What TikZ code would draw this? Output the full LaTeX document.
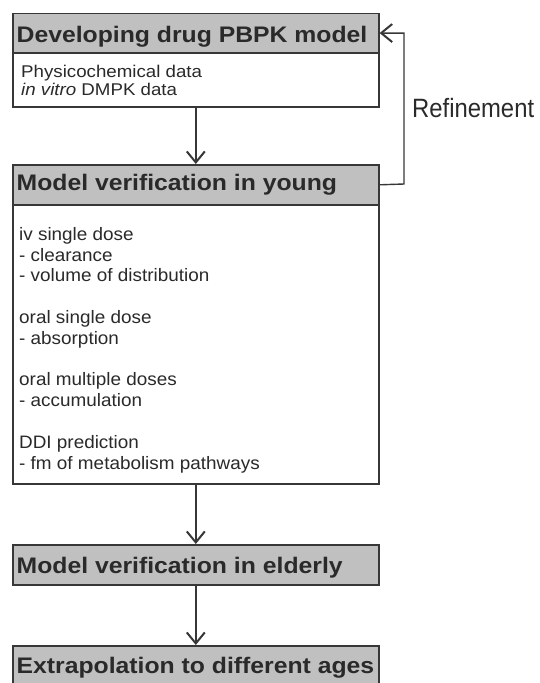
\documentclass[tikz,border=0pt]{standalone}
\usepackage{fontspec}
\setmainfont{Liberation Sans}
\newfontfamily\hdfont[FakeStretch=1.1]{Liberation Sans}
\newfontfamily\bdfont[FakeStretch=1.05]{Liberation Sans}
\newfontfamily\rffont[FakeStretch=0.9]{Liberation Sans}
\usetikzlibrary{arrows.meta,calc}
\definecolor{hdgray}{RGB}{192,192,192}
\definecolor{ink}{RGB}{42,42,42}
\definecolor{edge}{RGB}{55,55,55}
\tikzset{
  boxbase/.style={draw=edge, line width=1.6pt, inner sep=0pt, anchor=north west, minimum width=366pt},
  hdbox/.style={boxbase, fill=hdgray, minimum height=40pt},
  bodybox/.style={boxbase, fill=white},
  hdtext/.style={anchor=base west, inner sep=0pt, text=ink, font=\hdfont\bfseries\fontsize{22.5}{26}\selectfont},
  bodytext/.style={anchor=base west, inner sep=0pt, text=ink, align=left, font=\bdfont\fontsize{18}{20.8}\selectfont},
  smalltext/.style={anchor=base west, inner sep=0pt, text=ink, align=left, font=\hdfont\fontsize{17}{18}\selectfont},
  conn/.style={draw=edge, line width=1.4pt, -{Straight Barb[length=11pt,width=18pt,line width=2pt]}}
}
\begin{document}
\begin{tikzpicture}[x=1pt,y=-1pt]
\useasboundingbox (0,0) rectangle (540,683);
\clip (0,0) rectangle (540,683);
% box 1
\node[bodybox, minimum height=54pt] (b1) at (12,52) {};
\node[hdbox, minimum height=39.5pt] (h1) at (12,12.5) {};
\node[hdtext] (t1) at ($(h1.north west)+(4.5,29.5)$) {Developing drug PBPK model};
\node[smalltext] (s1) at ($(b1.north west)+(9,43)$) {Physicochemical data\\\textit{in vitro} DMPK data};
% box 2
\node[bodybox, minimum height=279pt] (b2) at (12,204) {};
\node[hdbox] (h2) at (12,164) {};
\node[hdtext] (t2) at ($(h2.north west)+(4.5,26.5)$) {Model verification in young};
\node[bodytext] (s2) at ($(b2.north west)+(7,265)$) {iv single dose\\- clearance\\- volume of distribution\\[20.8pt]oral single dose\\- absorption\\[20.8pt]oral multiple doses\\- accumulation\\[20.8pt]DDI prediction\\- fm of metabolism pathways};
% box 3
\node[hdbox] (h3) at (12,544) {};
\node[hdtext] (t3) at ($(h3.north west)+(4.5,29)$) {Model verification in elderly};
% box 4
\node[hdbox] (h4) at (12,645) {};
\node[hdtext] (t4) at ($(h4.north west)+(4.5,28.5)$) {Extrapolation to different ages};
% connectors
\draw[conn] (b1.south) -- (h2.north);
\draw[conn] (b2.south) -- (h3.north);
\draw[conn] (h3.south) -- (h4.north);
\coordinate (rf) at (404,184);
\draw[conn] (h2.east) -- (rf) |- (h1.east);
\node[anchor=base west, inner sep=0pt, text=ink, font=\rffont\fontsize{26.5}{30}\selectfont] (rt) at (412,117) {Refinement};
\end{tikzpicture}
\end{document}
